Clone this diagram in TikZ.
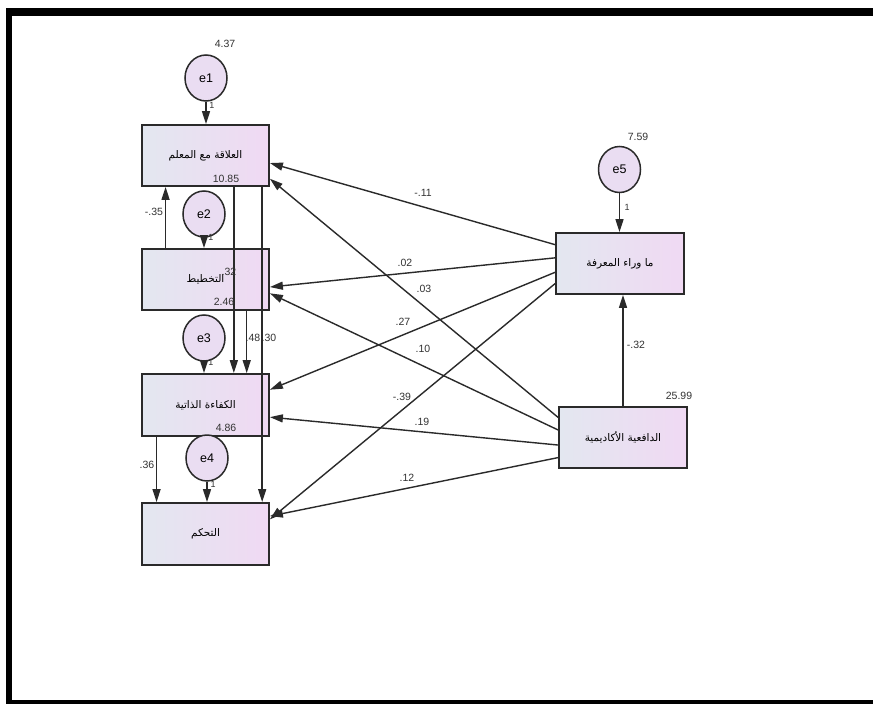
\documentclass[tikz,border=0pt]{standalone}
\usepackage{fontspec}
\setmainfont{Liberation Sans}
\newfontfamily\arabicfont[Script=Arabic]{DejaVu Sans}
\TeXXeTstate=1
\usetikzlibrary{arrows.meta,calc,shapes.geometric}
\newcommand{\artext}[1]{{\arabicfont\beginR #1\endR}}
\definecolor{boxL}{HTML}{E3E7F0}
\definecolor{boxR}{HTML}{F0D9F3}
\definecolor{errfill}{HTML}{EADDF2}
\definecolor{edge}{HTML}{2A2A2A}
\begin{document}
\begin{tikzpicture}[x=1pt,y=-1pt,
  varbox/.style={draw=edge, line width=1.8pt, minimum width=127pt, minimum height=61pt,
    left color=boxL, right color=boxR, inner sep=0pt,
    font=\fontsize{10.5}{12}\selectfont},
  errnode/.style={ellipse, draw=edge, line width=1.5pt, minimum width=42pt, minimum height=46pt,
    fill=errfill, inner sep=0pt, font=\fontsize{12.5}{14}\selectfont},
  conn/.style={-{Triangle[length=13pt,width=8pt]}, line width=1.4pt, draw=edge},
  coef/.style={inner sep=0pt, text=black!80, font=\fontsize{10.5}{12}\selectfont},
  unit/.style={inner sep=0pt, text=black!80, font=\fontsize{9}{10}\selectfont}]

% page and frame
\useasboundingbox (0,0) rectangle (873,704);
\fill[white] (0,0) rectangle (873,704);
\fill[black] (6,8) rectangle (873,704);
\fill[white] (12,16) rectangle (873,700);

% observed variables
\node[varbox] (a) at (205.5,155.5) {\artext{العلاقة مع المعلم}};
\node[varbox] (b) at (205.5,279.5) {\artext{التخطيط}};
\node[varbox, minimum height=62pt] (c) at (205.5,405) {\artext{الكفاءة الذاتية}};
\node[varbox, minimum height=62pt] (f) at (205.5,534) {\artext{التحكم}};
\node[varbox, minimum width=128pt] (m) at (620,263.5) {\artext{ما وراء المعرفة}};
\node[varbox, minimum width=128pt] (d) at (623,437.5) {\artext{الدافعية الأكاديمية}};

% error terms
\node[errnode] (e1) at (206,78) {e1};
\node[errnode] (e2) at (204,214) {e2};
\node[errnode] (e3) at (204,338) {e3};
\node[errnode] (e4) at (207,458) {e4};
\node[errnode] (e5) at (619.5,169.5) {e5};

\draw[conn] (e1.south) -- (e1.south |- a.north);
\draw[conn] (e2.south) -- (e2.south |- b.north);
\draw[conn] (e3.south) -- (e3.south |- c.north);
\draw[conn] (e4.south) -- (e4.south |- f.north);
\draw[conn] (e5.south) -- (e5.south |- m.north);

% vertical paths among the left column
\draw[conn] ($(b.north west)!.19!(b.north east)$) -- ($(a.south west)!.19!(a.south east)$);
\draw[conn] ($(a.south west)!.72!(a.south east)$) -- ($(c.north west)!.72!(c.north east)$);
\draw[conn] ($(b.south west)!.82!(b.south east)$) -- ($(c.north west)!.82!(c.north east)$);
\draw[conn] ($(a.south west)!.94!(a.south east)$) -- ($(f.north west)!.94!(f.north east)$);
\draw[conn] ($(c.south west)!.12!(c.south east)$) -- ($(f.north west)!.12!(f.north east)$);
\draw[conn] (d.north) -- (d.north |- m.south);

% ports on the right-hand boxes
\coordinate (m1) at ($(m.north west)!.20!(m.south west)$);
\coordinate (m2) at ($(m.north west)!.41!(m.south west)$);
\coordinate (m3) at ($(m.north west)!.64!(m.south west)$);
\coordinate (m4) at ($(m.north west)!.82!(m.south west)$);
\coordinate (d1) at ($(d.north west)!.18!(d.south west)$);
\coordinate (d2) at ($(d.north west)!.38!(d.south west)$);
\coordinate (d3) at ($(d.north west)!.62!(d.south west)$);
\coordinate (d4) at ($(d.north west)!.82!(d.south west)$);
% ports on the left-hand boxes
\coordinate (a1) at ($(a.north east)!.62!(a.south east)$);
\coordinate (a2) at ($(a.north east)!.87!(a.south east)$);
\coordinate (b1) at ($(b.north east)!.62!(b.south east)$);
\coordinate (b2) at ($(b.north east)!.72!(b.south east)$);
\coordinate (c1) at ($(c.north east)!.26!(c.south east)$);
\coordinate (c2) at ($(c.north east)!.69!(c.south east)$);
\coordinate (f1) at ($(f.north east)!.27!(f.south east)$);
\coordinate (f2) at ($(f.north east)!.22!(f.south east)$);

\draw[conn] (m1) -- (a1);
\draw[conn] (m2) -- (b1);
\draw[conn] (m3) -- (c1);
\draw[conn] (m4) -- (f1);
\draw[conn] (d1) -- (a2);
\draw[conn] (d2) -- (b2);
\draw[conn] (d3) -- (c2);
\draw[conn] (d4) -- (f2);

% variances
\node[coef] (v1) at (225,44) {4.37};
\node[coef] (v2) at (226,179) {10.85};
\node[coef] (v3) at (224,302) {2.46};
\node[coef] (v4) at (226,428) {4.86};
\node[coef] (v5) at (638,137) {7.59};
\node[coef] (v6) at (679,396) {25.99};

% fixed loadings of the error terms
\node[unit] (u1) at (212,105) {1};
\node[unit] (u2) at (211,237) {1};
\node[unit] (u3) at (211,362) {1};
\node[unit] (u4) at (213,484) {1};
\node[unit] (u5) at (627,207) {1};

% path coefficients
\node[coef] (p1) at (154,212) {-.35};
\node[coef] (p2) at (229,272) {.32};
\node[coef] (p3) at (253,338) {.48};
\node[coef] (p4) at (269,338) {.30};
\node[coef] (p5) at (147,465) {.36};
\node[coef] (p6) at (636,345) {-.32};
\node[coef] (p7) at (423,193) {-.11};
\node[coef] (p8) at (405,263) {.02};
\node[coef] (p9) at (424,289) {.03};
\node[coef] (p10) at (403,322) {.27};
\node[coef] (p11) at (423,349) {.10};
\node[coef] (p12) at (402,397) {-.39};
\node[coef] (p13) at (422,422) {.19};
\node[coef] (p14) at (407,478) {.12};
\end{tikzpicture}
\end{document}
